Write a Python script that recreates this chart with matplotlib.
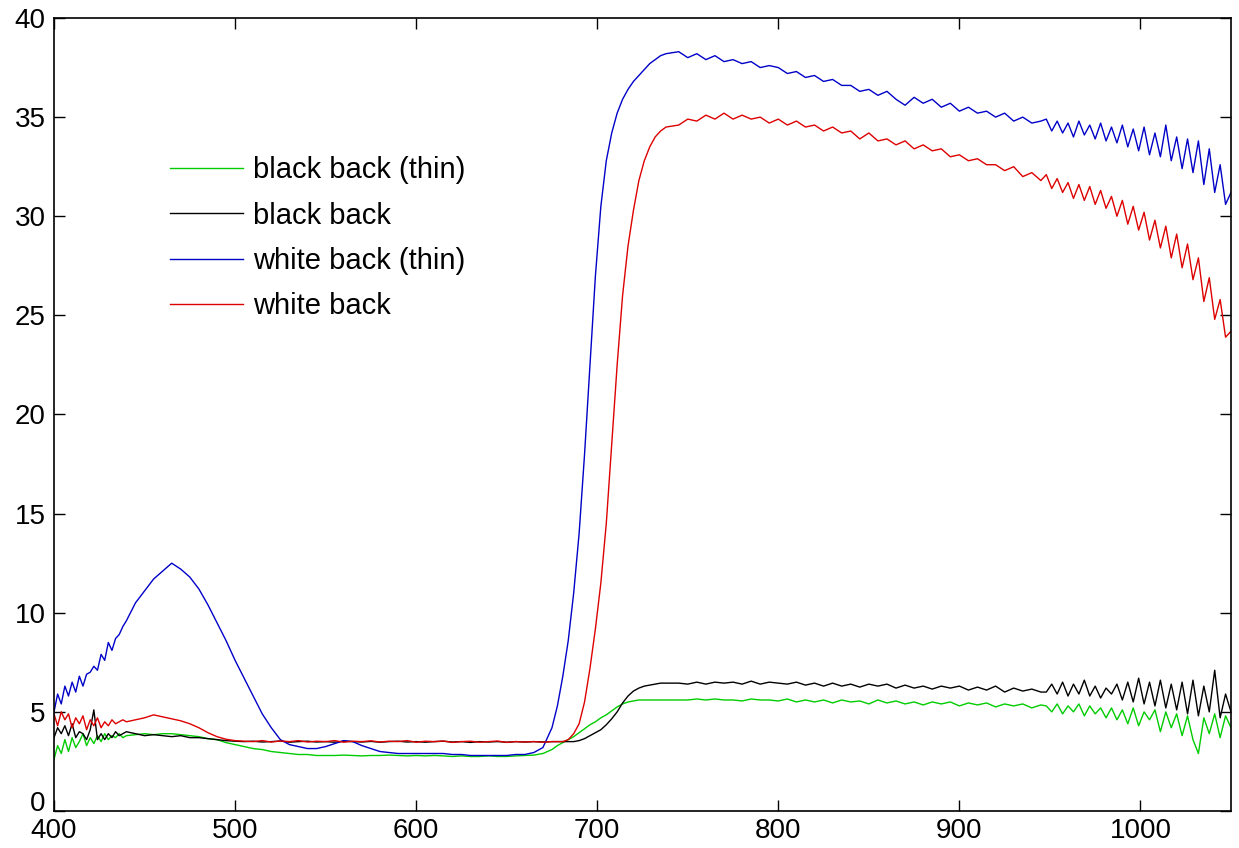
import numpy as np
import matplotlib
matplotlib.use("Agg")
import matplotlib.pyplot as plt
import matplotlib.transforms as mtransforms

plt.rcParams['font.family'] = ['Liberation Sans', 'DejaVu Sans']

# wavelength grid (nm) the values were read at
wl = np.array(list(range(400, 441, 2)) + list(range(445, 676, 5)) +
              list(range(678, 739, 3)) + list(range(745, 946, 5)) +
              list(range(948, 1051, 3)), dtype=float)

green_a = [2.6, 3.3, 2.9, 3.6, 3.0, 3.7, 3.2, 3.5, 3.9, 3.3, 3.7, 3.4, 3.8, 3.5, 3.9, 3.6, 3.8, 3.7, 3.9, 3.7, 3.8]
black_a = [3.7, 4.2, 3.9, 4.3, 3.8, 4.4, 3.7, 4.0, 3.9, 3.6, 4.1, 5.1, 3.6, 3.9, 3.6, 3.9, 3.7, 4.0, 3.8, 3.9, 4.0]
blue_a = [5.0, 5.9, 5.4, 6.3, 5.8, 6.5, 6.0, 6.8, 6.3, 6.9, 7.0, 7.3, 7.1, 7.9, 7.6, 8.5, 8.1, 8.7, 8.9, 9.3, 9.6]
red_a = [4.9, 4.3, 5.0, 4.6, 4.9, 4.2, 4.7, 4.4, 4.8, 4.1, 4.6, 4.3, 4.7, 4.2, 4.5, 4.3, 4.6, 4.4, 4.5, 4.6, 4.5]

green_b = [3.85, 3.9, 3.85, 3.9, 3.9, 3.85, 3.8, 3.75, 3.65, 3.6, 3.45, 3.35, 3.25, 3.15, 3.1, 3.0,
           2.95, 2.9, 2.85, 2.85, 2.8, 2.8, 2.8, 2.82, 2.8, 2.78, 2.8, 2.8, 2.82, 2.8, 2.78, 2.8,
           2.78, 2.8, 2.78, 2.75, 2.78, 2.75, 2.75, 2.78, 2.75, 2.75, 2.78, 2.8, 2.82, 2.9, 3.1]
black_b = [3.9, 3.8, 3.85, 3.8, 3.75, 3.8, 3.7, 3.7, 3.65, 3.6, 3.55, 3.52, 3.5, 3.52, 3.48, 3.5,
           3.53, 3.47, 3.5, 3.52, 3.48, 3.5, 3.47, 3.52, 3.5, 3.48, 3.51, 3.47, 3.5, 3.52, 3.48, 3.5,
           3.47, 3.5, 3.52, 3.48, 3.5, 3.46, 3.5, 3.48, 3.5, 3.47, 3.5, 3.48, 3.5, 3.48, 3.5]
blue_b = [10.5, 11.1, 11.7, 12.1, 12.5, 12.2, 11.8, 11.2, 10.4, 9.5, 8.6, 7.6, 6.7, 5.8, 4.9, 4.2,
          3.6, 3.35, 3.25, 3.15, 3.15, 3.25, 3.4, 3.55, 3.5, 3.3, 3.15, 3.0, 2.95, 2.9, 2.9, 2.9,
          2.9, 2.9, 2.9, 2.85, 2.85, 2.8, 2.8, 2.8, 2.8, 2.8, 2.85, 2.85, 2.95, 3.2, 4.2]
red_b = [4.6, 4.7, 4.85, 4.75, 4.65, 4.55, 4.4, 4.2, 3.95, 3.75, 3.62, 3.55, 3.52, 3.5, 3.55, 3.48,
         3.53, 3.5, 3.55, 3.48, 3.52, 3.5, 3.55, 3.47, 3.52, 3.5, 3.54, 3.48, 3.52, 3.5, 3.55, 3.47,
         3.52, 3.5, 3.53, 3.46, 3.5, 3.52, 3.47, 3.5, 3.53, 3.46, 3.5, 3.48, 3.5, 3.47, 3.5]

green_c = [3.3, 3.45, 3.6, 3.75, 3.95, 4.15, 4.35, 4.5, 4.7, 4.85, 5.05, 5.25, 5.4, 5.5, 5.55, 5.6, 5.6, 5.6, 5.6, 5.6, 5.6]
black_c = [3.5, 3.5, 3.5, 3.5, 3.55, 3.65, 3.8, 3.95, 4.1, 4.35, 4.65, 5.0, 5.45, 5.8, 6.05, 6.2, 6.3, 6.35, 6.4, 6.45, 6.45]
blue_c = [5.3, 6.8, 8.6, 11.0, 14.0, 18.0, 22.5, 27.0, 30.5, 32.8, 34.2, 35.2, 35.9, 36.4, 36.8, 37.1, 37.4, 37.7, 37.9, 38.1, 38.2]
red_c = [3.5, 3.5, 3.6, 3.9, 4.4, 5.5, 7.2, 9.2, 11.5, 14.5, 18.5, 22.5, 26.0, 28.5, 30.3, 31.8, 32.8, 33.5, 34.0, 34.3, 34.5]

green_d = [5.6, 5.6, 5.65, 5.6, 5.65, 5.6, 5.6, 5.55, 5.65, 5.6, 5.6, 5.55, 5.65, 5.5, 5.6, 5.5,
           5.6, 5.45, 5.6, 5.5, 5.55, 5.4, 5.6, 5.45, 5.55, 5.4, 5.5, 5.35, 5.5, 5.4, 5.5, 5.3,
           5.45, 5.35, 5.45, 5.25, 5.4, 5.3, 5.4, 5.2, 5.35]
black_d = [6.45, 6.4, 6.5, 6.4, 6.5, 6.45, 6.5, 6.4, 6.55, 6.4, 6.5, 6.45, 6.4, 6.5, 6.35, 6.45,
           6.3, 6.45, 6.3, 6.4, 6.25, 6.4, 6.3, 6.4, 6.2, 6.35, 6.2, 6.3, 6.15, 6.3, 6.2, 6.3,
           6.1, 6.25, 6.1, 6.3, 6.0, 6.2, 6.05, 6.15, 6.0]
blue_d = [38.3, 38.0, 38.2, 37.9, 38.1, 37.8, 37.9, 37.7, 37.8, 37.5, 37.6, 37.5, 37.2, 37.3, 37.0, 37.1,
          36.8, 36.9, 36.6, 36.6, 36.3, 36.4, 36.1, 36.3, 35.9, 35.6, 36.0, 35.7, 35.9, 35.5, 35.7, 35.3,
          35.5, 35.2, 35.3, 35.0, 35.2, 34.8, 35.0, 34.7, 34.8]
red_d = [34.6, 34.9, 34.8, 35.1, 34.9, 35.2, 34.9, 35.1, 34.9, 35.0, 34.7, 34.9, 34.6, 34.8, 34.5, 34.6,
         34.3, 34.5, 34.2, 34.3, 33.9, 34.2, 33.8, 33.9, 33.6, 33.8, 33.4, 33.6, 33.3, 33.4, 33.0, 33.1,
         32.8, 32.9, 32.6, 32.6, 32.3, 32.5, 32.0, 32.2, 31.8]

green_e = [5.3, 5.0, 5.4, 4.9, 5.3, 5.0, 5.4, 4.8, 5.3, 4.9, 5.2, 4.7, 5.2, 4.6, 5.1, 4.4, 5.2, 4.3,
           5.0, 4.6, 5.1, 4.0, 5.0, 4.2, 4.9, 3.8, 4.8, 3.6, 2.9, 4.7, 3.9, 4.9, 3.7, 4.8, 4.2]
black_e = [6.0, 6.4, 5.9, 6.5, 5.8, 6.4, 5.9, 6.6, 5.8, 6.3, 5.7, 6.2, 5.9, 6.4, 5.6, 6.5, 5.5, 6.7,
           5.4, 6.5, 5.3, 6.6, 5.2, 6.4, 5.1, 6.5, 4.9, 6.6, 4.8, 6.3, 5.0, 7.1, 4.7, 5.9, 5.0]
blue_e = [34.9, 34.3, 34.8, 34.2, 34.7, 34.0, 34.8, 34.1, 34.6, 33.9, 34.7, 33.8, 34.5, 33.7, 34.6, 33.5,
          34.4, 33.3, 34.5, 33.1, 34.2, 33.0, 34.6, 32.8, 34.0, 32.4, 33.9, 32.2, 33.8, 31.6, 33.4, 31.2,
          32.6, 30.6, 31.2]
red_e = [32.1, 31.4, 31.9, 31.2, 31.7, 30.9, 31.6, 30.8, 31.5, 30.6, 31.3, 30.4, 31.0, 30.0, 30.8, 29.6,
         30.5, 29.3, 30.2, 28.8, 29.8, 28.4, 29.5, 27.9, 29.1, 27.4, 28.6, 26.8, 27.9, 25.7, 26.9, 24.8,
         25.8, 23.9, 24.2]

green = green_a + green_b + green_c + green_d + green_e
black = black_a + black_b + black_c + black_d + black_e
blue = blue_a + blue_b + blue_c + blue_d + blue_e
red = red_a + red_b + red_c + red_d + red_e

labels = ["black back (thin)", "black back", "white back (thin)", "white back"]
colors = ["#00cc00", "#000000", "#0000c8", "#dd0000"]

fig = plt.figure(figsize=(12.39, 8.48), dpi=100)
ax = fig.add_axes([54 / 1239, 37 / 848, 1177 / 1239, 793 / 848])

for series, label, color in zip([green, black, blue, red], labels, colors):
    ax.plot(wl, series, color=color, lw=1.0, label=label)

ax.set_xlim(400, 1050)
ax.set_ylim(0, 40)
ax.set_xticks(range(400, 1001, 100))
ax.set_yticks(range(0, 41, 5))
ax.tick_params(direction='in', top=True, right=True, length=8, width=1,
               labelsize=20, pad=6)
ax.tick_params(axis='x', pad=5)
for sp in ax.spines.values():
    sp.set_linewidth(1.2)

# lift the "0" label so it sits above the "400" label, as in the original
fig.canvas.draw()
ylab0 = ax.get_yticklabels()[0]
ylab0.set_transform(ylab0.get_transform() +
                    mtransforms.ScaledTranslation(0, 10 / 100, fig.dpi_scale_trans))

ax.legend(loc='upper left', bbox_to_anchor=(170 / 1239, 1 - 156 / 848),
          bbox_transform=fig.transFigure, frameon=False, fontsize=21,
          handlelength=2.5, handletextpad=0.35, labelspacing=0.6,
          borderpad=0, borderaxespad=0)

fig.savefig("out.png", dpi=100)
